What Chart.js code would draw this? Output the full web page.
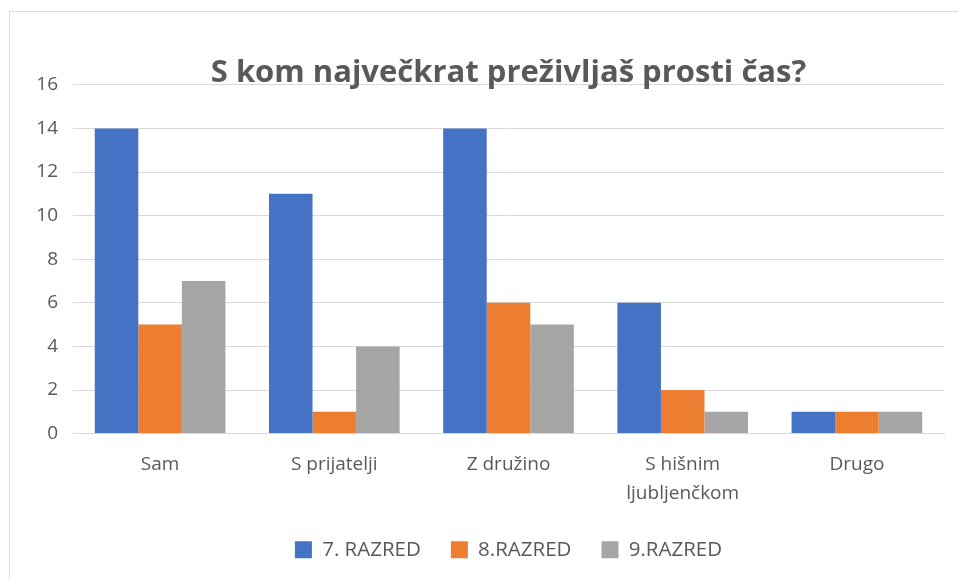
<!DOCTYPE html>
<html>
<head>
<meta charset="utf-8">
<script src="https://cdn.jsdelivr.net/npm/chart.js@4"></script>
<style>
  html, body { margin: 0; padding: 0; background: #fff; }
  #wrap { position: relative; width: 958px; height: 579px; }
  #frame { position: absolute; left: 9px; top: 11px; right: 0; bottom: 0;
           border-top: 1px solid #d9d9d9; border-left: 1px solid #d9d9d9; }
  canvas { position: absolute; left: 0; top: 0; }
</style>
</head>
<body>
<div id="wrap">
  <div id="frame"></div>
  <canvas id="myChart" width="958" height="579"></canvas>
</div>
<script>
const categories = ['Sam', 'S prijatelji', 'Z družino', ['S hišnim', 'ljubljenčkom'], 'Drugo']
const razred7 = [14, 11, 14, 6, 1]
const razred8 = [5, 1, 6, 2, 1]
const razred9 = [7, 4, 5, 1, 1]
const yTicks = [0, 2, 4, 6, 8, 10, 12, 14, 16]

const textColor = '#595959'
const fontFamily = '"Open Sans", sans-serif'

const ctx = document.getElementById('myChart')
new Chart(ctx, {
  type: 'bar',
  data: {
    labels: categories,
    datasets: [
      { label: '7. RAZRED', data: razred7, backgroundColor: '#4472C4' },
      { label: '8.RAZRED', data: razred8, backgroundColor: '#ED7D31' },
      { label: '9.RAZRED', data: razred9, backgroundColor: '#A5A5A5' }
    ]
  },
  options: {
    responsive: false,
    animation: false,
    devicePixelRatio: 1,
    categoryPercentage: 0.75,
    barPercentage: 1,
    layout: { padding: { left: 0, right: 14, top: 0, bottom: 9 } },
    plugins: {
      title: {
        display: true,
        fullSize: false,
        text: 'S kom največkrat preživljaš prosti čas?',
        color: textColor,
        font: { family: fontFamily, size: 31, weight: 'bold', lineHeight: 0.77 },
        padding: { top: 61, bottom: 0 }
      },
      legend: {
        position: 'bottom',
        fullSize: false,
        labels: {
          color: textColor,
          font: { family: fontFamily, size: 20.5 },
          boxWidth: 17,
          boxHeight: 17,
          padding: 30
        }
      },
      tooltip: { enabled: false }
    },
    scales: {
      x: {
        afterFit: s => { s.height -= 7 },
        grid: { display: false },
        border: { color: '#d9d9d9' },
        ticks: { color: textColor, font: { family: fontFamily, size: 19, lineHeight: 1.55 }, padding: 8, maxRotation: 0 }
      },
      y: {
        min: 0,
        max: 16,
        afterBuildTicks: s => { s.ticks = yTicks.map(v => ({ value: v })) },
        afterFit: s => { s.width = 73 },
        grid: { color: '#d9d9d9', drawTicks: false },
        border: { display: false },
        ticks: { color: textColor, font: { family: fontFamily, size: 19 }, padding: 15 }
      }
    }
  }
})
</script>
</body>
</html>
